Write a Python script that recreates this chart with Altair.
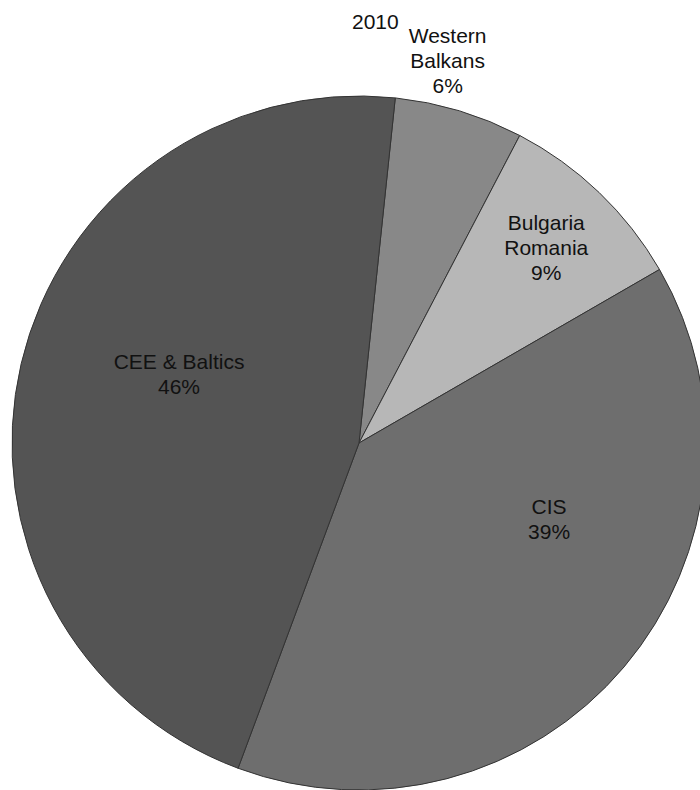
import math

import altair as alt
import pandas as pd

# Regional shares, 2010 (per cent)
regions = ["Western Balkans", "Bulgaria Romania", "CIS", "CEE & Baltics"]
label_lines = ["Western\nBalkans", "Bulgaria\nRomania", "CIS", "CEE & Baltics"]
shares = [6, 9, 39, 46]
fills = ["#888888", "#b7b7b7", "#6e6e6e", "#545454"]

# Label placement (anchor of the first text line): distance from the centre
# (px) and a small angular nudge away from the slice midpoint (share units)
label_radius = [416, 288, 201, 197]
label_nudge = [-1.25, -0.9, -5.9, 3.0]

START = math.radians(6)
CX, CY, R = 359, 443, 347
FONT = "Liberation Sans"

df = pd.DataFrame({"region": regions, "share": shares, "order": range(len(regions))})
df["label"] = [f"{t}\n{s}%" for t, s in zip(label_lines, shares)]
df["mid"] = df["share"].cumsum() - df["share"] / 2 + pd.Series(label_nudge)
df["lr"] = label_radius

theta_scale = alt.Scale(domain=[0, 100], range=[START, START + 2 * math.pi])

arcs = alt.Chart(df).mark_arc(
    outerRadius=R, stroke="#333333", strokeWidth=1
).encode(
    theta=alt.Theta("share:Q", stack=True, scale=theta_scale),
    order=alt.Order("order:Q"),
    color=alt.Color("region:N", scale=alt.Scale(domain=regions, range=fills), legend=None),
    x=alt.value(CX),
    y=alt.value(CY),
)

labels = alt.Chart(df).mark_text(
    font=FONT, fontSize=21, lineBreak="\n", lineHeight=25,
    align="center", baseline="middle", color="#111111",
).encode(
    theta=alt.Theta("mid:Q", stack=False, scale=theta_scale),
    radius=alt.Radius("lr:Q", scale=None),
    text="label:N",
    x=alt.value(CX),
    y=alt.value(CY),
)

chart = alt.layer(arcs, labels).properties(
    width=700,
    height=790,
    padding=0,
    autosize=alt.AutoSizeParams(type="none"),
    title=alt.Title(
        "2010", orient="none", anchor="start", dx=352, dy=29,
        fontSize=21, fontWeight="normal", font=FONT, color="#111111",
        baseline="alphabetic",
    ),
).configure_view(stroke=None)

chart.save("out.html", embed_options={"renderer": "svg", "actions": False})
